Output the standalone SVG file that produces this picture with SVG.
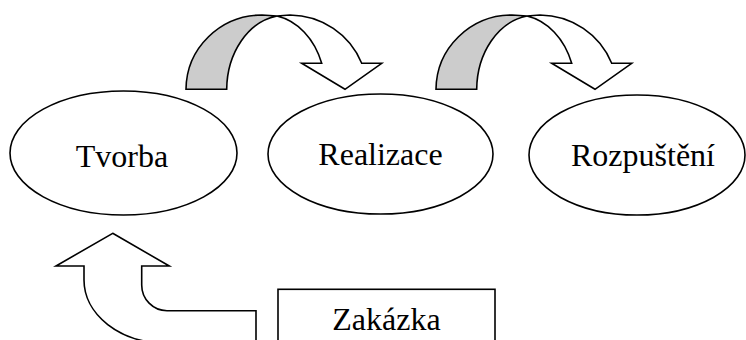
<svg xmlns="http://www.w3.org/2000/svg" width="746" height="340" viewBox="0 0 746 340">
  <style>
    .line { fill: none; stroke: #000; stroke-width: 1.6; stroke-linejoin: miter; }
    .node { fill: #fff; stroke: #000; stroke-width: 1.6; }
    .face { fill: #fff; stroke: #000; stroke-width: 1.6; stroke-linejoin: miter; }
    .back { fill: #cccccc; stroke: #000; stroke-width: 1.6; stroke-linejoin: miter; }
    text { font-family: 'Liberation Serif', 'Times New Roman', 'DejaVu Serif', serif; font-size: 32px; fill: #000; text-anchor: middle; }
  </style>
  <defs>
    <!-- curved down arrow: shaded back band + white front band with head -->
    <g id="curvedDown">
      <path class="back" d="M186,89.3 A76,75 0 0 1 262,15 L277,16 A59.3,75 0 0 0 226.7,89.3 Z"/>
      <path class="face" d="M277,16 L290,15 A78,77 0 0 1 361.7,63.3 L381.7,63.3 L345,89.3 L301.7,63.3 L321.7,63.3 A59,74 0 0 0 277,16 Z"/>
    </g>
  </defs>

  <g id="connectors">
    <use href="#curvedDown"/>
    <use href="#curvedDown" transform="translate(250,0)"/>
    <!-- bent-up arrow from the order box into Tvorba -->
    <path class="face" d="M112.7,233.3 L169.3,266 L141.7,266 L141.7,285 A25.3,25.7 0 0 0 167,310.7 L256,310.7 L256,343 L165,343 A81,63 0 0 1 84,280 L84,266 L56,266 Z"/>
  </g>

  <g id="tvorba">
    <ellipse class="node" cx="123.5" cy="153" rx="113.5" ry="62"/>
    <text x="122" y="167" font-family="Liberation Serif, serif">Tvorba</text>
  </g>

  <g id="realizace">
    <ellipse class="node" cx="380.5" cy="154" rx="112.5" ry="60"/>
    <text x="380.5" y="165" font-family="Liberation Serif, serif">Realizace</text>
  </g>

  <g id="rozpusteni">
    <ellipse class="node" cx="637" cy="155" rx="108" ry="60"/>
    <text x="643" y="166" font-family="Liberation Serif, serif">Rozpuštění</text>
  </g>

  <g id="zakazka">
    <rect class="node" x="278" y="289.3" width="217" height="60"/>
    <text x="386.5" y="330" font-family="Liberation Serif, serif">Zakázka</text>
  </g>
</svg>
